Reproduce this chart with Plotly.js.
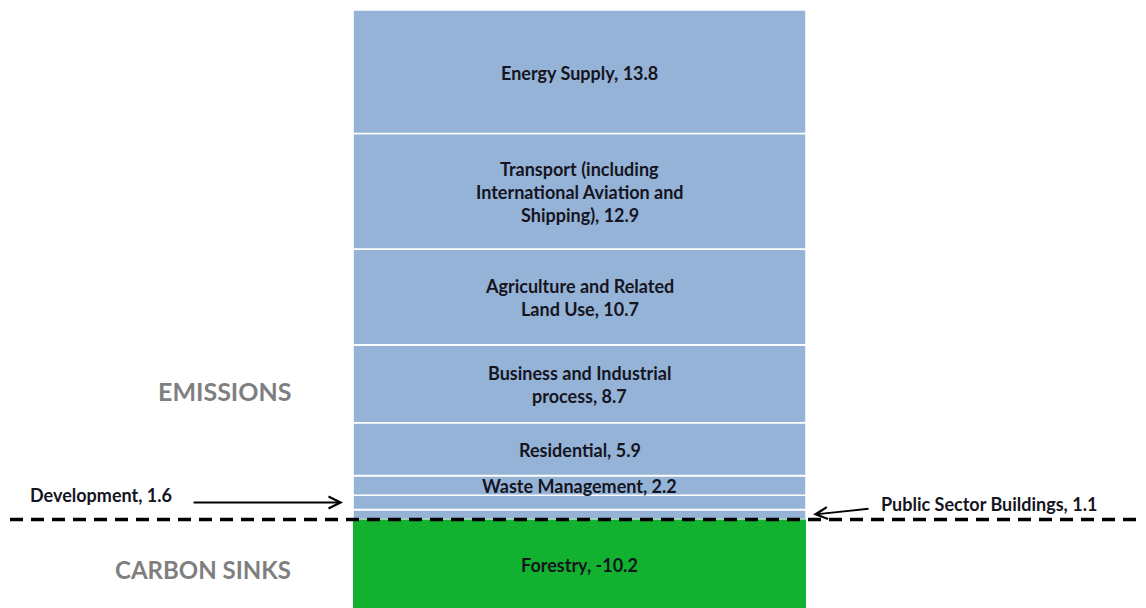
<!DOCTYPE html>
<html>
<head>
<meta charset="utf-8">
<script src="https://cdn.plot.ly/plotly-3.0.1.min.js"></script>
<style>html,body{margin:0;padding:0;background:#fff;}#chart{width:1146px;height:608px;}</style>
</head>
<body>
<div id="chart"></div>
<script>
// Emission categories, listed from the top of the stack down
const categories = [
  "Energy Supply",
  "Transport (including International Aviation and Shipping)",
  "Agriculture and Related Land Use",
  "Business and Industrial process",
  "Residential",
  "Waste Management",
  "Development",
  "Public Sector Buildings"
];
const values = [13.8, 12.9, 10.7, 8.7, 5.9, 2.2, 1.6, 1.1];
const insideLabels = [
  "Energy Supply, 13.8",
  "Transport (including<br>International Aviation and<br>Shipping), 12.9",
  "Agriculture and Related<br>Land Use, 10.7",
  "Business and Industrial<br>process, 8.7",
  "Residential, 5.9",
  "Waste Management, 2.2",
  "",
  ""
];
const sinkCategories = ["Forestry"];
const sinkValues = [-10.2];
const sinkLabels = ["Forestry, -10.2"];

const BLUE = "#95b3d7";
const GREEN = "#12b12f";
const FONT = "Lato, 'Open Sans', sans-serif";
const TXT = "#15151f";
const LINE_GAP = 23;
const LABEL_SIZE = 18;

const traces = [];
const annotations = [];

function addLabel(x, y, html) {
  const lines = html.split("<br>");
  const n = lines.length;
  lines.forEach((ln, k) => {
    annotations.push({
      x: x, y: y, xref: "x", yref: "y", text: ln, xanchor: "center", yanchor: "middle",
      yshift: ((n - 1) / 2 - k) * LINE_GAP - 1,
      showarrow: false, font: {family: FONT, size: LABEL_SIZE, color: TXT, weight: "bold"}
    });
  });
}

// build stack from bottom (last) to top (first)
let base = 0;
const mids = {};
for (let i = categories.length - 1; i >= 0; i--) {
  traces.push({
    type: "bar", x: [0], y: [values[i]], width: 1, name: categories[i],
    marker: {color: BLUE, line: {color: "#ffffff", width: 1.6}},
    hoverinfo: "name+y", showlegend: false
  });
  mids[categories[i]] = base + values[i] / 2;
  if (insideLabels[i]) addLabel(0, base + values[i] / 2, insideLabels[i]);
  base += values[i];
}
for (let i = 0; i < sinkCategories.length; i++) {
  traces.push({
    type: "bar", x: [0], y: [sinkValues[i]], width: 1, name: sinkCategories[i],
    marker: {color: GREEN, line: {width: 0}}, hoverinfo: "name+y", showlegend: false
  });
}
const total = values.reduce((a, b) => a + b, 0);
const pxPerUnit = 509.5 / total;
const yTop = total + 10 / pxPerUnit;
const yBot = -(608 - 519.5) / pxPerUnit;
// forestry label at centre of visible part
addLabel(0, Math.max(sinkValues[0], yBot) / 2, sinkLabels[0]);

// arrows for small segments
annotations.push({
  x: -0.522, y: mids["Development"], xref: "x", yref: "y", text: "",
  showarrow: true, arrowhead: 5, arrowsize: 1.3, arrowwidth: 1.8, arrowcolor: "#000",
  ax: -151, ay: 0, standoff: 0
});
annotations.push({
  x: 0.5155, y: mids["Public Sector Buildings"], xref: "x", yref: "y", text: "",
  showarrow: true, arrowhead: 5, arrowsize: 1.3, arrowwidth: 1.8, arrowcolor: "#000",
  ax: 57, ay: -6, standoff: 0
});
const sideFont = {family: FONT, size: LABEL_SIZE, color: TXT, weight: "bold"};
annotations.push({
  x: 101 / 1146, y: 1 - 495 / 608, xref: "paper", yref: "paper", xanchor: "center", yanchor: "middle",
  text: "Development, " + values[6], showarrow: false, font: sideFont
});
annotations.push({
  x: 989 / 1146, y: 1 - 504 / 608, xref: "paper", yref: "paper", xanchor: "center", yanchor: "middle",
  text: "Public Sector Buildings, " + values[7], showarrow: false, font: sideFont
});
annotations.push({
  x: 293 / 1146, y: 1 - 391 / 608, xref: "paper", yref: "paper", xanchor: "right", yanchor: "middle",
  text: "EMISSIONS", showarrow: false,
  font: {family: FONT, size: 25, color: "#7f7f7f", weight: "bold"}
});
annotations.push({
  x: 293 / 1146, y: 1 - 569 / 608, xref: "paper", yref: "paper", xanchor: "right", yanchor: "middle",
  text: "CARBON SINKS", showarrow: false,
  font: {family: FONT, size: 24, color: "#7f7f7f", weight: "bold"}
});

const layout = {
  width: 1146, height: 608,
  margin: {l: 0, r: 0, t: 0, b: 0},
  paper_bgcolor: "#ffffff", plot_bgcolor: "#ffffff",
  barmode: "relative",
  xaxis: {range: [-579.5 / 453, (1146 - 579.5) / 453], visible: false, fixedrange: true},
  yaxis: {range: [yBot, yTop], visible: false, fixedrange: true},
  annotations: annotations,
  shapes: [{
    type: "line", xref: "paper", yref: "y", x0: 10 / 1146, x1: 1138 / 1146, y0: 0, y1: 0,
    line: {color: "#000000", width: 3.5, dash: "13px,8px"}, layer: "above"
  }],
  showlegend: false
};
Plotly.newPlot("chart", traces, layout, {displayModeBar: false, staticPlot: true});
</script>
</body>
</html>
